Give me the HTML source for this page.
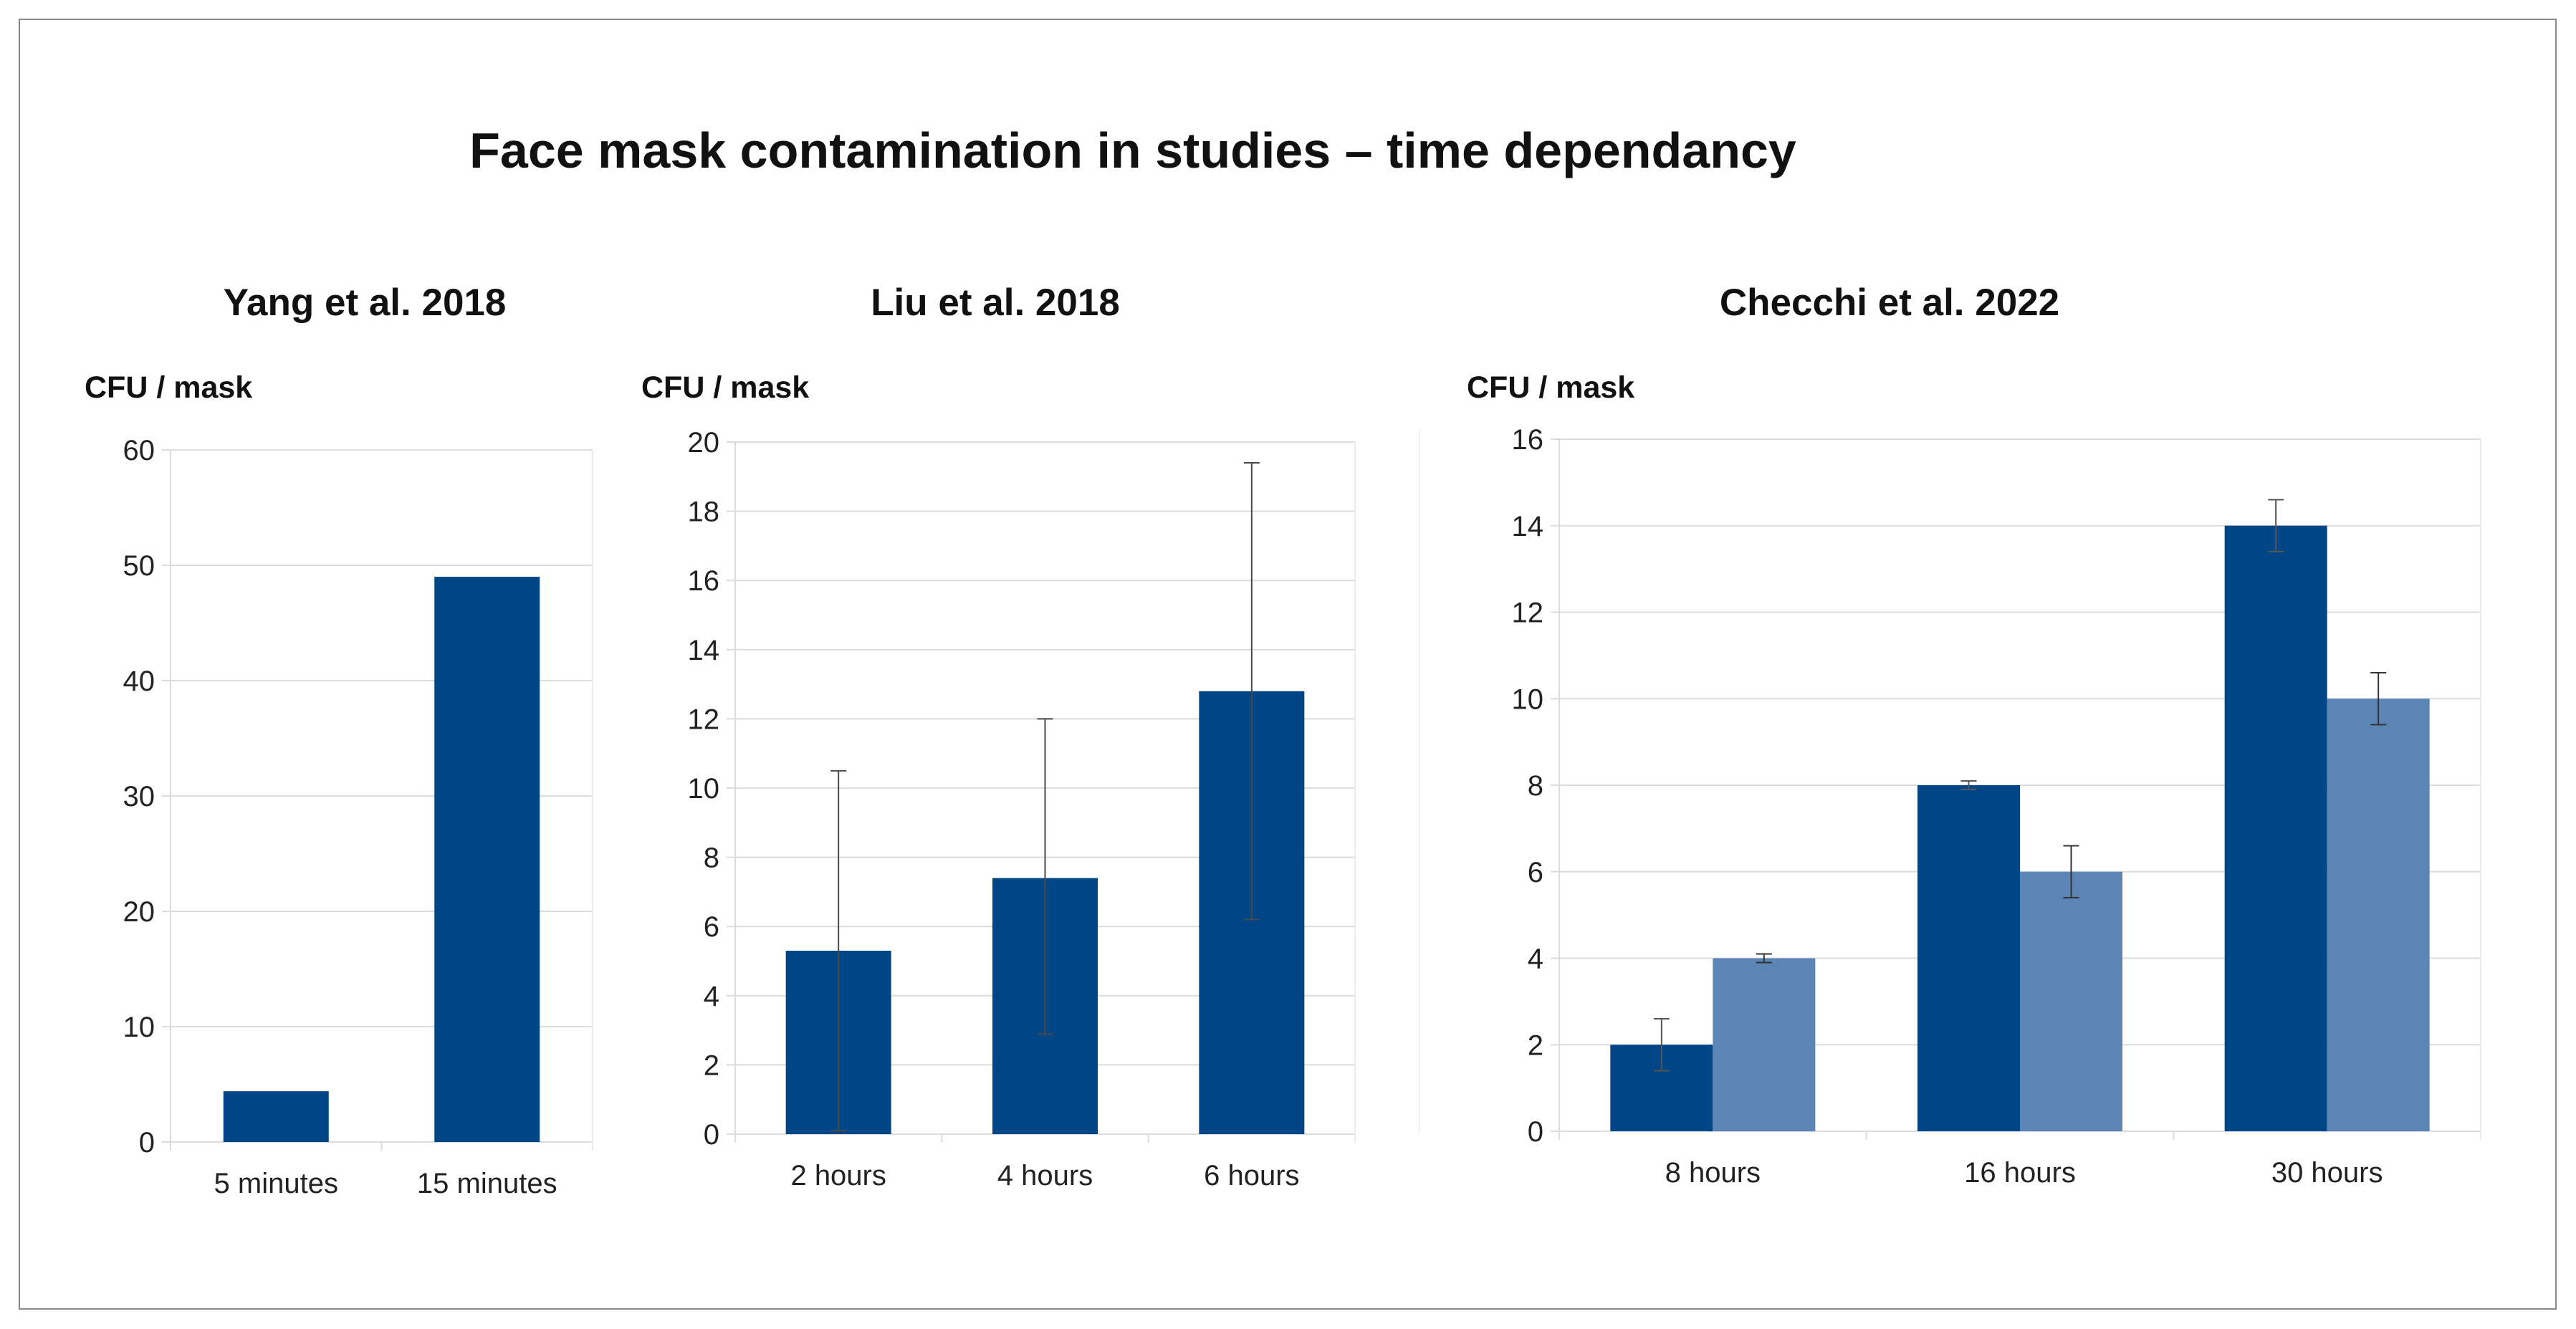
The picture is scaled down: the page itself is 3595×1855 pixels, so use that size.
<!DOCTYPE html>
<html><head><meta charset="utf-8"><style>
html,body{margin:0;padding:0;background:#fff;}
svg{display:block;font-family:"Liberation Sans",sans-serif;}
</style></head><body>
<svg id="s" width="3595" height="1855" viewBox="0 0 3595 1855">
<rect x="27" y="27" width="3540" height="1800" fill="#fff" stroke="#888" stroke-width="2"/>
<text x="1581" y="234" text-anchor="middle" font-size="70" font-weight="bold" fill="#111">Face mask contamination in studies – time dependancy</text>
<g id="c1"></g>
<g id="c2"></g>
<g id="c3"></g>
</svg>
<script>
// Chart 1: Yang et al. 2018
const yangCategories = ["5 minutes", "15 minutes"];
const yangValues = [4.4, 49];
const yangTicks = [0, 10, 20, 30, 40, 50, 60];
// Chart 2: Liu et al. 2018
const liuCategories = ["2 hours", "4 hours", "6 hours"];
const liuValues = [5.3, 7.4, 12.8];
const liuErrHigh = [10.5, 12.0, 19.4];
const liuErrLow = [0.1, 2.9, 6.2];
const liuTicks = [0, 2, 4, 6, 8, 10, 12, 14, 16, 18, 20];
// Chart 3: Checchi et al. 2022
const checchiCategories = ["8 hours", "16 hours", "30 hours"];
const checchiSeriesA = [2, 8, 14];
const checchiErrA = [0.6, 0.1, 0.6];
const checchiSeriesB = [4, 6, 10];
const checchiErrB = [0.1, 0.6, 0.6];
const checchiTicks = [0, 2, 4, 6, 8, 10, 12, 14, 16];

const NS = "http://www.w3.org/2000/svg";
function mk(parent, tag, attrs, text) {
  const e = document.createElementNS(NS, tag);
  for (const k in attrs) e.setAttribute(k, attrs[k]);
  if (text !== undefined) e.textContent = text;
  parent.appendChild(e);
  return e;
}

function chart(g, o) {
  const yScale = v => o.y0 - (v - o.min) / (o.max - o.min) * (o.y0 - o.y1);
  const n = o.cats.length;
  const gw = (o.x1 - o.x0) / n;
  const xCenter = i => o.x0 + gw * (i + 0.5);
  let t = mk(g, "text", {x: o.titleX, y: 440, "text-anchor": "middle", "font-size": 53, "font-weight": "bold", fill: "#111"}, o.title);
  
  
  t = mk(g, "text", {x: o.unitX, y: 555, "font-size": 43, "font-weight": "bold", fill: "#111"}, "CFU / mask");
  
  
  o.ticks.forEach(v => {
    const y = yScale(v);
    const l = mk(g, "line", {x1: o.x0 - 12, x2: o.x1, y1: y, y2: y, stroke: "#dcdcdc", "stroke-width": 2});
    
    
    const tl = mk(g, "text", {x: o.x0 - 22, y: y + 14, "text-anchor": "end", "font-size": 40, fill: "#222"}, String(v));
    
    
  });
  let ax = mk(g, "line", {x1: o.x0, x2: o.x0, y1: o.y1, y2: o.y0 + 12, stroke: "#dcdcdc", "stroke-width": 2});
  
  
  ax = mk(g, "line", {x1: o.x1, x2: o.x1, y1: o.y1, y2: o.y0 + 12, stroke: "#ececec", "stroke-width": 2});
  
  
  for (let i = 1; i < n; i++) {
    const x = o.x0 + gw * i;
    const tk = mk(g, "line", {x1: x, x2: x, y1: o.y0, y2: o.y0 + 12, stroke: "#dcdcdc", "stroke-width": 2});
    
    
  }
  o.cats.forEach((c, i) => {
    const cl = mk(g, "text", {x: xCenter(i), y: o.catY, "text-anchor": "middle", "font-size": 40, fill: "#222"}, c);
    
    
  });
  const ns = o.series.length;
  const bw = o.barW;
  o.series.forEach((s, si) => {
    s.values.forEach((v, i) => {
      const bx = xCenter(i) - bw * ns / 2 + bw * si;
      const y = yScale(v);
      const r = mk(g, "rect", {x: bx, y: y, width: bw, height: o.y0 - y, fill: s.color});
      
      
      if (s.hi) {
        const cx = bx + bw / 2;
        const yh = yScale(s.hi[i]), yl = yScale(s.lo[i]);
        const e = mk(g, "line", {x1: cx, x2: cx, y1: yh, y2: yl, stroke: s.err, "stroke-width": 2});
        
        
        [yh, yl].forEach(yy => {
          const cap = mk(g, "line", {x1: cx - 11, x2: cx + 11, y1: yy, y2: yy, stroke: s.err, "stroke-width": 2});
          
          
        });
      }
    });
  });
}

chart(document.getElementById("c1"), {
  title: "Yang et al. 2018", titleX: 509, unitX: 118,
  x0: 238, x1: 827, y0: 1594, y1: 628, min: 0, max: 60, catY: 1665,
  ticks: yangTicks, cats: yangCategories, barW: 147,
  series: [{values: yangValues, color: "#004586"}]
});
chart(document.getElementById("c2"), {
  title: "Liu et al. 2018", titleX: 1389, unitX: 895,
  x0: 1026, x1: 1891, y0: 1583, y1: 617, min: 0, max: 20, catY: 1654,
  ticks: liuTicks, cats: liuCategories, barW: 147,
  series: [{values: liuValues, color: "#004586", err: "#4a4a4a",
    hi: liuErrHigh, lo: liuErrLow}]
});
chart(document.getElementById("c3"), {
  title: "Checchi et al. 2022", titleX: 2637, unitX: 2047,
  x0: 2176, x1: 3462, y0: 1579, y1: 613, min: 0, max: 16, catY: 1650,
  ticks: checchiTicks, cats: checchiCategories, barW: 143,
  series: [
    {values: checchiSeriesA, color: "#004586", err: "#555",
     hi: checchiSeriesA.map((v, i) => v + checchiErrA[i]), lo: checchiSeriesA.map((v, i) => v - checchiErrA[i])},
    {values: checchiSeriesB, color: "#5a85b4", err: "#333",
     hi: checchiSeriesB.map((v, i) => v + checchiErrB[i]), lo: checchiSeriesB.map((v, i) => v - checchiErrB[i])}
  ]
});
const s = document.getElementById("s");
const ghost = mk(s, "line", {x1: 1981, x2: 1981, y1: 600, y2: 1580, stroke: "#f0f0f0", "stroke-width": 2});


</script>
</body></html>
